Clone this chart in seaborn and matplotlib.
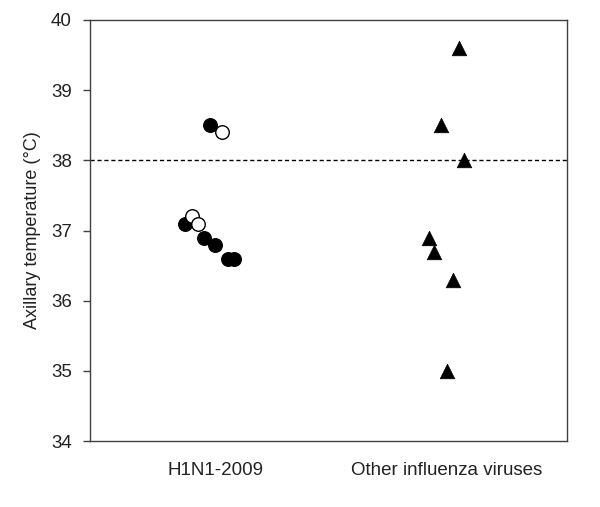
import matplotlib
matplotlib.use("Agg")
import matplotlib.pyplot as plt
import seaborn as sns
import pandas as pd

groups = ["H1N1-2009", "Other influenza viruses"]

h1n1_filled_x = [-0.134, -0.026, -0.052, -0.004, 0.052, 0.078]
h1n1_filled_y = [37.1, 38.5, 36.9, 36.8, 36.6, 36.6]
h1n1_open_x = [0.026, -0.104, -0.078]
h1n1_open_y = [38.4, 37.2, 37.1]
other_x = [1.052, 0.974, 1.074, 0.922, 0.944, 1.026, 1.0]
other_y = [39.6, 38.5, 38.0, 36.9, 36.7, 36.3, 35.0]
fever_cutoff = 38.0

df_filled = pd.DataFrame({"x": h1n1_filled_x, "temp": h1n1_filled_y})
df_open = pd.DataFrame({"x": h1n1_open_x, "temp": h1n1_open_y})
df_other = pd.DataFrame({"x": other_x, "temp": other_y})

sns.set_theme(style="white")
plt.rcParams["font.family"] = ["Liberation Sans", "DejaVu Sans"]

fig = plt.figure(figsize=(6, 5.07), dpi=100)
ax = fig.add_axes([0.15, 0.13, 0.795, 0.8306])

sns.scatterplot(data=df_filled, x="x", y="temp", ax=ax, marker="o", s=95,
                color="black", edgecolor="black", linewidth=1, zorder=3)
sns.scatterplot(data=df_open, x="x", y="temp", ax=ax, marker="o", s=95,
                facecolor="white", edgecolor="black", linewidth=1, zorder=3)
sns.scatterplot(data=df_other, x="x", y="temp", ax=ax, marker="^", s=110,
                color="black", edgecolor="black", linewidth=0.5, zorder=3)

ax.axhline(fever_cutoff, color="black", linestyle=(0, (3, 2)), linewidth=1, zorder=1)

ax.set_xlim(-0.545, 1.52)
ax.set_ylim(34, 40)
ax.set_yticks(range(34, 41))
ax.set_xticks([0, 1])
ax.set_xticklabels(groups, fontsize=13.5, color="#222222")
ax.tick_params(axis="x", length=0, pad=15)
ax.tick_params(axis="y", length=5, width=1, direction="out", left=True,
               labelsize=13.5, labelcolor="#222222", pad=8, color="#404040")
ax.set_xlabel("")
ax.set_ylabel("Axillary temperature (°C)", fontsize=13, labelpad=7, color="#222222")
for sp in ax.spines.values():
    sp.set_color("#404040")
    sp.set_linewidth(1)

fig.savefig("out.png", dpi=100)
